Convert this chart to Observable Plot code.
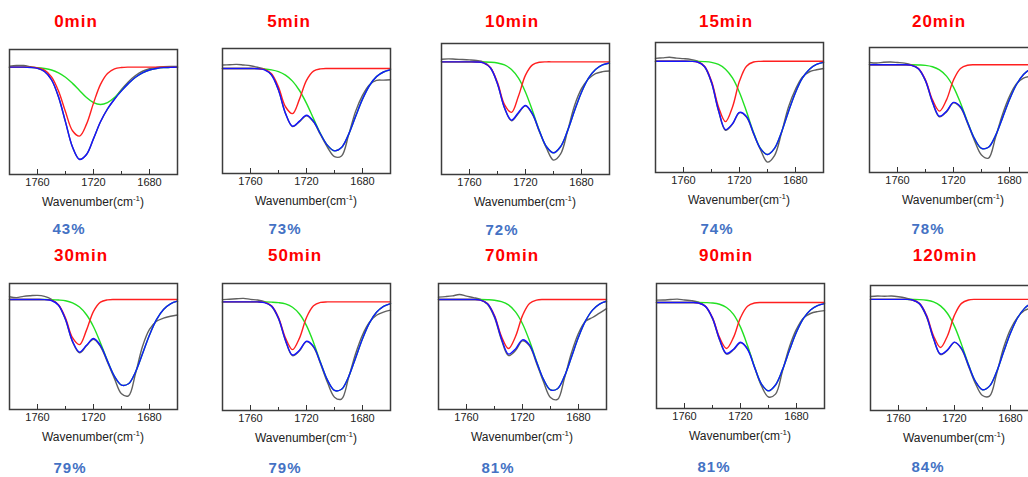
<!DOCTYPE html>
<html>
<head>
<meta charset="utf-8">
<script src="https://cdn.jsdelivr.net/npm/d3@7"></script>
<script src="https://cdn.jsdelivr.net/npm/@observablehq/plot@0.6"></script>
<style>
  html, body { margin: 0; padding: 0; background: #fff; }
  #root { position: relative; width: 1028px; height: 477px; overflow: hidden; background: #fff;
          font-family: "Liberation Sans", Arial, sans-serif; }
  .lbl { position: absolute; transform: translate(-50%, -50%); white-space: nowrap; line-height: 1; }
  .ttl { color: #ff0000; font-weight: bold; font-size: 17px; letter-spacing: 1px; }
  .pct { color: #4472c4; font-weight: bold; font-size: 15px; letter-spacing: 1px; }
  .axl { color: #222; font-size: 12px; }
  .axl sup { font-size: 8px; }
</style>
</head>
<body>
<div id="root"></div>
<script>
// ---- data ----
const wavenumbers = [1780,1775,1770,1765,1760,1755,1750,1745,1740,1735,1730,1725,1720,1715,1710,1705,1700,1695,1690,1685,1680,1675,1670,1665,1660];
const times = ["0min","5min","10min","15min","20min","30min","50min","70min","90min","120min"];
const percents = ["43%","73%","72%","74%","78%","79%","79%","81%","81%","84%"];
const majorTicks = [1760, 1720, 1680];
const minorTicks = [1740, 1700];

// measured spectrum (grey)
const measured = [
  [86.6,87.2,87.2,86.2,85.0,82.4,75.8,62.0,42.0,22.0,12.2,16.0,28.6,42.2,52.5,60.5,68.0,74.3,79.2,82.6,84.6,85.6,86.2,86.5,86.4],
  [86.8,87.0,87.3,86.8,86.2,85.0,83.4,79.0,66.7,48.0,37.5,41.5,46.2,41.3,31.0,21.0,13.5,14.0,30.5,49.5,62.5,71.0,74.5,74.7,75.0],
  [88.0,88.3,88.0,87.8,87.5,87.0,85.8,81.5,69.0,50.8,41.0,46.8,52.5,45.8,32.5,20.0,11.0,15.5,33.0,52.5,65.5,73.0,77.0,78.5,79.0],
  [87.8,88.2,88.6,88.0,87.6,87.0,85.6,81.2,69.0,47.5,32.5,37.2,46.0,42.6,29.8,17.5,8.0,13.0,30.5,50.5,64.0,73.5,77.5,79.0,80.0],
  [88.0,87.6,88.2,88.4,88.0,87.5,86.0,82.8,73.2,56.0,44.5,48.5,55.8,52.0,39.5,25.5,14.0,11.5,28.0,46.5,61.0,71.0,75.5,77.0,77.5],
  [89.5,88.8,89.8,90.3,90.6,89.8,87.5,82.8,71.2,53.8,45.0,50.5,55.8,50.0,37.5,24.5,12.5,10.8,28.5,50.0,63.5,70.0,72.5,74.0,75.0],
  [87.3,87.6,88.0,88.3,87.5,87.0,85.8,82.0,72.2,55.0,43.2,47.0,54.2,50.0,36.8,22.0,10.5,9.0,25.5,44.5,59.5,69.5,75.0,77.5,79.0],
  [89.2,89.6,90.2,91.3,90.0,88.8,87.3,83.5,73.0,55.2,42.8,46.8,54.5,50.5,36.8,22.0,9.5,8.0,25.0,45.0,60.5,70.0,73.0,76.5,80.0],
  [86.7,86.8,87.2,87.5,86.8,86.3,85.0,81.5,71.8,55.0,43.5,47.0,52.6,48.0,33.0,18.0,9.2,11.5,30.0,49.5,63.5,72.5,76.0,77.5,78.3],
  [91.2,91.6,91.4,91.6,91.0,90.0,88.6,85.2,75.0,57.3,44.8,48.2,54.5,49.2,35.5,21.5,12.0,11.5,29.0,50.0,65.0,74.5,80.0,82.0,83.0]
];
// cumulative fit (blue)
const fitSum = [
  [85.9,85.9,85.9,85.6,84.9,82.4,75.8,62.2,42.1,22.0,12.0,16.0,28.7,42.2,52.4,60.2,66.9,72.9,77.8,81.3,83.6,84.8,85.5,85.7,85.9],
  [84.0,84.0,84.0,84.0,84.0,83.8,82.9,78.8,66.7,48.1,37.8,41.9,46.6,41.8,31.6,22.5,18.1,20.8,31.1,45.5,59.5,70.4,77.5,81.2,83.0],
  [86.0,86.0,86.0,86.0,86.0,85.9,85.2,81.3,69.3,51.0,41.5,47.4,52.7,46.3,33.0,21.2,16.6,21.2,33.3,48.6,62.8,73.5,80.1,83.6,85.1],
  [85.6,85.6,85.6,85.6,85.6,85.5,85.0,81.5,69.4,47.9,33.0,37.5,46.3,43.1,30.4,18.4,13.8,18.5,31.0,46.9,61.6,72.7,79.5,83.1,84.7],
  [86.2,86.2,86.2,86.2,86.2,86.2,85.7,83.0,73.5,56.5,45.0,49.0,56.1,52.6,40.2,27.1,19.3,20.2,29.5,43.7,58.4,70.4,78.4,82.8,84.9],
  [87.3,87.3,87.3,87.3,87.3,87.2,86.5,82.8,71.6,54.3,45.5,50.9,56.3,50.7,38.4,26.3,19.4,20.4,29.8,44.2,59.1,71.3,79.4,83.9,86.0],
  [85.5,85.5,85.5,85.5,85.5,85.5,85.0,82.2,72.6,55.4,43.7,47.5,54.5,50.5,37.6,23.9,15.8,16.7,26.4,41.2,56.5,69.0,77.3,82.0,84.2],
  [87.3,87.3,87.3,87.3,87.3,87.3,86.8,83.9,73.9,56.2,44.0,48.1,55.3,51.3,37.9,23.9,15.6,16.5,26.5,41.7,57.5,70.3,78.9,83.7,85.9],
  [84.8,84.8,84.8,84.8,84.8,84.8,84.4,81.7,72.3,55.5,44.0,47.4,53.0,47.4,33.1,19.5,14.1,18.8,31.1,46.7,61.2,72.1,78.8,82.3,83.9],
  [88.9,88.9,88.9,88.9,88.9,88.9,88.4,85.5,75.6,57.8,45.2,48.5,54.7,49.7,36.3,23.2,16.6,19.5,30.8,46.6,62.0,74.0,81.7,85.9,87.8]
];
// fitted component ~1730 cm-1 (red)
const peak1 = [
  [85.9,85.9,85.9,85.8,85.3,83.5,78.1,66.8,50.2,35.0,30.7,40.3,57.1,72.1,80.8,84.5,85.6,85.9,85.9,85.9,85.9,85.9,85.9,85.9,85.9],
  [84.0,84.0,84.0,84.0,84.0,83.9,83.3,79.9,69.2,53.4,47.9,59.5,74.5,81.9,83.7,84.0,84.0,84.0,84.0,84.0,84.0,84.0,84.0,84.0,84.0],
  [86.0,86.0,86.0,86.0,86.0,85.9,85.3,81.6,70.2,53.4,47.4,59.9,75.9,83.7,85.7,86.0,86.0,86.0,86.0,86.0,86.0,86.0,86.0,86.0,86.0],
  [85.6,85.6,85.6,85.6,85.6,85.5,85.0,81.8,70.3,50.4,39.1,50.4,70.3,81.8,85.0,85.5,85.6,85.6,85.6,85.6,85.6,85.6,85.6,85.6,85.6],
  [86.2,86.2,86.2,86.2,86.2,86.2,85.8,83.2,74.0,58.1,49.1,58.1,74.0,83.2,85.8,86.2,86.2,86.2,86.2,86.2,86.2,86.2,86.2,86.2,86.2],
  [87.3,87.3,87.3,87.3,87.3,87.2,86.7,83.2,72.6,57.0,51.5,63.0,77.9,85.2,87.0,87.3,87.3,87.3,87.3,87.3,87.3,87.3,87.3,87.3,87.3],
  [85.5,85.5,85.5,85.5,85.5,85.5,85.1,82.4,73.2,57.0,47.9,57.0,73.2,82.4,85.1,85.5,85.5,85.5,85.5,85.5,85.5,85.5,85.5,85.5,85.5],
  [87.3,87.3,87.3,87.3,87.3,87.3,86.8,84.1,74.5,57.9,48.4,57.9,74.5,84.1,86.8,87.3,87.3,87.3,87.3,87.3,87.3,87.3,87.3,87.3,87.3],
  [84.8,84.8,84.8,84.8,84.8,84.8,84.4,81.8,72.7,56.9,48.0,56.9,72.7,81.8,84.4,84.8,84.8,84.8,84.8,84.8,84.8,84.8,84.8,84.8,84.8],
  [88.9,88.9,88.9,88.9,88.9,88.9,88.4,85.7,76.3,59.8,50.4,59.8,76.3,85.7,88.4,88.9,88.9,88.9,88.9,88.9,88.9,88.9,88.9,88.9,88.9]
];
// fitted component ~1700 cm-1 (green)
const peak2 = [
  [85.9,85.9,85.9,85.7,85.5,84.8,83.6,81.3,77.8,72.9,67.2,61.6,57.5,56.0,57.5,61.6,67.2,72.9,77.8,81.3,83.6,84.8,85.5,85.7,85.9],
  [84.0,84.0,84.0,84.0,84.0,83.9,83.6,82.9,81.5,78.7,73.9,66.4,56.1,43.9,31.9,22.5,18.1,20.8,31.1,45.5,59.5,70.4,77.5,81.2,83.0],
  [86.0,86.0,86.0,86.0,86.0,86.0,85.9,85.7,85.1,83.6,80.1,73.5,62.8,48.6,33.3,21.2,16.6,21.2,33.3,48.6,62.8,73.5,80.1,83.6,85.1],
  [85.6,85.6,85.6,85.6,85.6,85.6,85.5,85.3,84.7,83.1,79.5,72.7,61.6,46.9,31.0,18.5,13.8,18.5,31.0,46.9,61.6,72.7,79.5,83.1,84.7],
  [86.2,86.2,86.2,86.2,86.2,86.2,86.2,86.0,85.7,84.6,82.1,77.1,68.3,55.6,40.6,27.1,19.3,20.2,29.5,43.7,58.4,70.4,78.4,82.8,84.9],
  [87.3,87.3,87.3,87.3,87.3,87.3,87.2,86.9,86.3,84.6,81.3,75.2,65.7,52.8,38.7,26.3,19.4,20.4,29.8,44.2,59.1,71.3,79.4,83.9,86.0],
  [85.5,85.5,85.5,85.5,85.5,85.5,85.5,85.3,84.9,83.9,81.3,76.0,66.8,53.6,38.0,23.9,15.8,16.7,26.4,41.2,56.5,69.0,77.3,82.0,84.2],
  [87.3,87.3,87.3,87.3,87.3,87.3,87.3,87.1,86.7,85.6,83.0,77.5,68.1,54.5,38.4,23.9,15.6,16.5,26.5,41.7,57.5,70.3,78.9,83.7,85.9],
  [84.8,84.8,84.8,84.8,84.8,84.8,84.8,84.7,84.4,83.4,80.8,75.3,65.1,50.4,33.5,19.5,14.1,18.8,31.1,46.7,61.2,72.1,78.8,82.3,83.9],
  [88.9,88.9,88.9,88.9,88.9,88.9,88.8,88.7,88.2,86.9,83.7,77.6,67.3,52.9,36.8,23.2,16.6,19.5,30.8,46.6,62.0,74.0,81.7,85.9,87.8]
];

// ---- layout (pixel positions of each panel's frame and labels) ----
const frames = [[9,49,174],[222,48,173],[441,43,174],[655,42,172],[869,47,172],
                [9,283,409],[222,283,410],[438,283,409],[656,283,408],[870,285,410]];
const titleAt = [[76,21],[289,21],[512,21],[726,21],[939,21],[81,255],[295,255],[512,255],[726,255],[945,255]];
const pctAt = [[69,228],[285,228],[502,229],[717,228],[928,228],[70,467],[285,467],[498,467],[714,466],[928,466]];

const root = document.getElementById("root");
const FW = 168, M = 4, MB = 22;

function addLabel(cls, html, x, y) {
  const d = document.createElement("div");
  d.className = "lbl " + cls;
  d.innerHTML = html;
  d.style.left = x + "px";
  d.style.top = y + "px";
  root.appendChild(d);
}

times.forEach((t, i) => {
  const [L, T, B] = frames[i];
  const h = B - T;
  const rows = wavenumbers.map((wn, j) => ({
    wn, measured: measured[i][j], fit: fitSum[i][j], p1: peak1[i][j], p2: peak2[i][j]
  }));
  const lineOpts = {x: "wn", curve: "catmull-rom", strokeWidth: 1.4};
  const svg = Plot.plot({
    width: FW + 2 * M,
    height: h + M + MB,
    marginLeft: M, marginRight: M, marginTop: M, marginBottom: MB,
    x: {domain: [1780, 1660], axis: null},
    y: {domain: [0, 100], axis: null},
    style: {background: "transparent", overflow: "visible",
            fontFamily: "'Liberation Sans', Arial, sans-serif"},
    marks: [
      Plot.line(rows, {...lineOpts, y: "measured", stroke: "#606060"}),
      Plot.line(rows, {...lineOpts, y: "p2", stroke: "#22e022"}),
      Plot.line(rows, {...lineOpts, y: "p1", stroke: "#ff1f1f"}),
      Plot.line(rows, {...lineOpts, y: "fit", stroke: "#1414ff"}),
      Plot.tickX(majorTicks, {x: d => d, insetTop: h - 5, stroke: "#333", strokeWidth: 1}),
      Plot.tickX(minorTicks, {x: d => d, insetTop: h - 3, stroke: "#333", strokeWidth: 1}),
      Plot.frame({stroke: "#3c3c3c", strokeWidth: 1.5}),
      Plot.text(majorTicks, {x: d => d, frameAnchor: "bottom", dy: 11, text: d => String(d),
                             fontSize: 11, fill: "#222"})
    ]
  });
  svg.style.position = "absolute";
  svg.style.left = (L - M) + "px";
  svg.style.top = (T - M) + "px";
  svg.style.maxWidth = "none";
  root.appendChild(svg);

  addLabel("ttl", t, titleAt[i][0], titleAt[i][1]);
  addLabel("pct", percents[i], pctAt[i][0], pctAt[i][1]);
  addLabel("axl", "Wavenumber(cm<sup>-1</sup>)", L + FW / 2, B + 27);
});
</script>
</body>
</html>
